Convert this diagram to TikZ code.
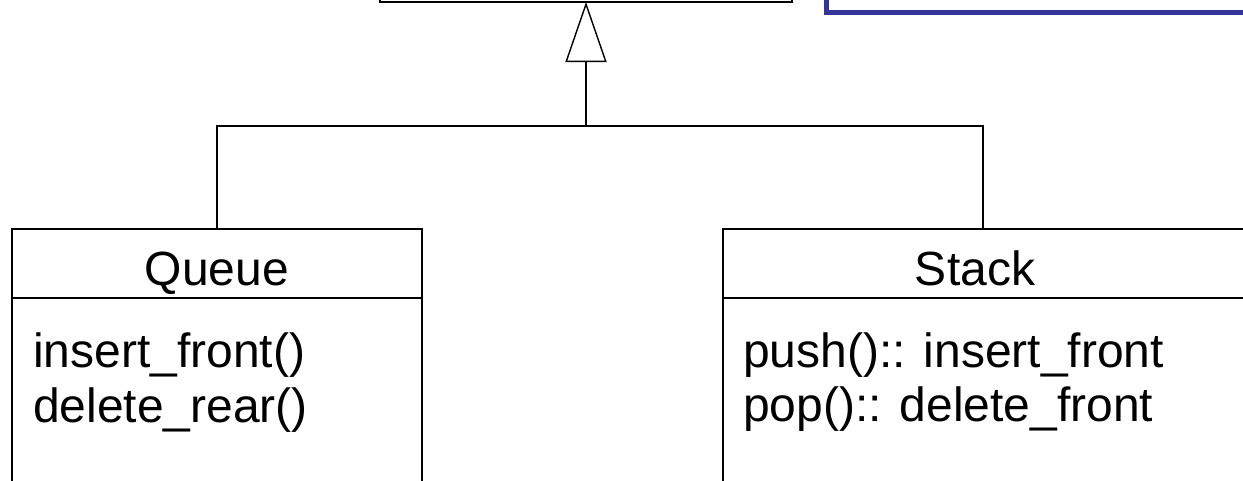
\documentclass[tikz,border=0pt]{standalone}
\usepackage{fontspec}
\setmainfont{Liberation Sans}
\usetikzlibrary{arrows.meta,calc}
\definecolor{frameblue}{RGB}{51,51,153}
\begin{document}
\begin{tikzpicture}[x=1pt,y=-1pt,
  classbox/.style={draw, line width=1.6pt, outer sep=0pt, inner sep=0pt},
  txt/.style={font=\fontsize{48}{55}\selectfont, inner sep=0pt},
  link/.style={line width=1.4pt},
  divider/.style={line width=1.6pt},
]
\useasboundingbox (0,0) rectangle (1243,480);
\clip (0,0) rectangle (1243,480);

% blue frame in the upper right corner
\node[draw=frameblue, line width=5pt, outer sep=0pt, anchor=south west,
      minimum width=500pt, minimum height=80pt] (note) at (826.5,12.5) {};

% base class box (only its lower edge shows)
\node[classbox, anchor=south west, minimum width=412pt, minimum height=80pt]
  (base) at (380,2) {};

% Queue class
\node[classbox, anchor=north west, minimum width=410pt, minimum height=300pt]
  (queue) at (12,229) {};
\draw[divider] ($(queue.north west)+(0,69)$) -- ($(queue.north east)+(0,69)$);
\node[txt, anchor=base] (qtitle) at (217,285) {Queue};
\node[txt, anchor=base west] (q1) at (33,367) {insert\_front()};
\node[txt, anchor=base west] (q2) at (33,422) {delete\_rear()};

% Stack class
\node[classbox, anchor=north west, minimum width=600pt, minimum height=300pt]
  (stack) at (723,229) {};
\draw[divider] ($(stack.north west)+(0,69)$) -- ($(stack.north east)+(0,69)$);
\node[txt, anchor=base] (stitle) at (975,285) {Stack};
\node[txt, anchor=base west] (s1) at (743,367) {push():: insert\_front};
\node[txt, anchor=base west] (s2) at (743,421) {pop():: delete\_front};

% generalization connectors
\coordinate (joint) at (586,126);
\coordinate (stackport) at ($(stack.north west)+(260,0)$);
\draw[link] (queue.north) |- (joint) -| (stackport);
\draw[link, -{Triangle[open, length=60pt, width=41pt, line width=1.4pt]}]
  (joint) -- (base.south);
\end{tikzpicture}
\end{document}
